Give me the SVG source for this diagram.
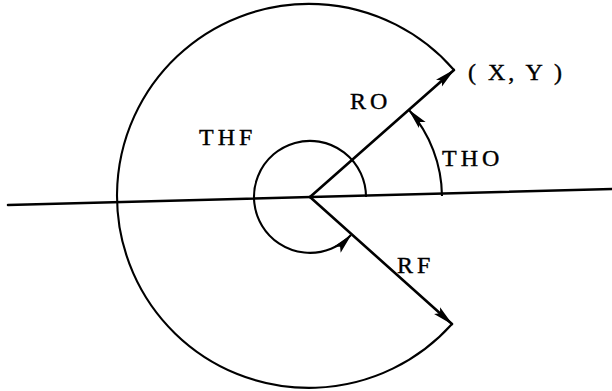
<svg xmlns="http://www.w3.org/2000/svg" width="612" height="391" viewBox="0 0 612 391">
<style>
.ln{fill:none;stroke:#000;stroke-width:2.6;stroke-linecap:round}
.arc{fill:none;stroke:#000;stroke-width:2.1}
.lbl{font-family:"Liberation Serif","Times New Roman",serif;font-size:24px;fill:#000;stroke:#000;stroke-width:0.4;letter-spacing:4px}
</style>
<defs>
<marker id="ah" markerUnits="userSpaceOnUse" markerWidth="26" markerHeight="14" viewBox="-22 -7 24 14" refX="0" refY="0" orient="auto">
<path d="M1,0 L-20,-4.5 L-16,0 L-20,4.5 Z" fill="#000"/>
</marker>
</defs>
<rect width="612" height="391" fill="#fff"/>
<g id="axis">
<path class="ln" d="M8,205 L612,189"/>
</g>
<g id="outline">
<path class="arc" d="M454,70 A192,192 0 1 0 452,324"/>
</g>
<g id="connectors">
<path id="RO" class="ln" d="M310,197 L454,70" marker-end="url(#ah)"/>
<path id="RF" class="ln" d="M310,197 L452,324" marker-end="url(#ah)"/>
<path id="THF" class="arc" d="M366,197 A56,56 0 1 0 351,235" marker-end="url(#ah)"/>
<path id="THO" class="arc" d="M442,196 A132,132 0 0 0 409,110" marker-end="url(#ah)"/>
</g>
<g id="labels">
<text class="lbl" x="199" y="145">THF</text>
<text class="lbl" x="350" y="109">RO</text>
<text class="lbl" x="442" y="166">THO</text>
<text class="lbl" x="397" y="273">RF</text>
<text class="lbl" x="468" y="80" style="letter-spacing:3px">( X, Y )</text>
</g>
</svg>
